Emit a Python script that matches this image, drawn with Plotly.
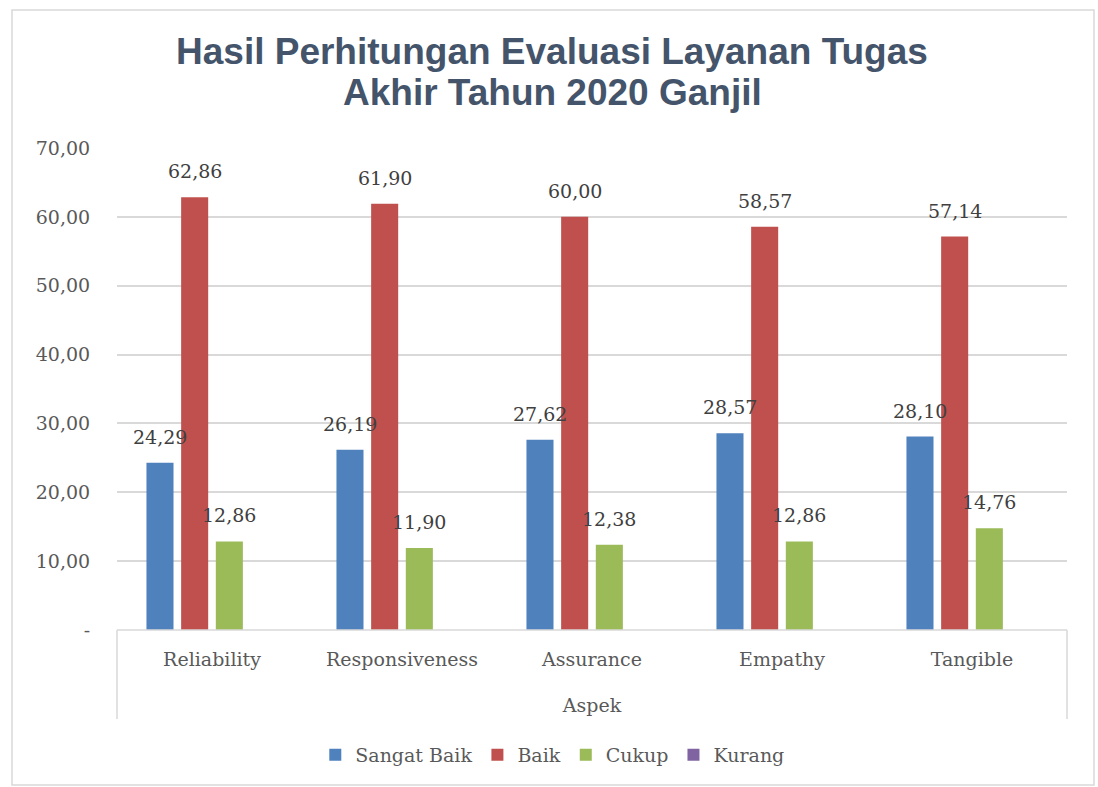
import plotly.graph_objects as go

categories = ["Reliability", "Responsiveness", "Assurance", "Empathy", "Tangible"]
series_names = ["Sangat Baik", "Baik", "Cukup", "Kurang"]
sangat_baik = [24.29, 26.19, 27.62, 28.57, 28.10]
baik = [62.86, 61.90, 60.00, 58.57, 57.14]
cukup = [12.86, 11.90, 12.38, 12.86, 14.76]
kurang = [0, 0, 0, 0, 0]
y_tickvals = [0, 10, 20, 30, 40, 50, 60, 70]
y_ticktext = ["-", "10,00", "20,00", "30,00", "40,00", "50,00", "60,00", "70,00"]
title_lines = ["Hasil Perhitungan Evaluasi Layanan Tugas", "Akhir Tahun 2020 Ganjil"]

colors = ["#4F81BD", "#C0504D", "#9BBB59", "#8064A2"]
serif = "DejaVu Serif"
BARGAP = 0.27
BARGROUPGAP = 0.22

W, H = 1098, 787
L, R, T, B = 117, 31, 148, 157
pw, ph = W - L - R, H - T - B


def px(x):
    return (x - L) / pw


def py(y):
    return (H - B - y) / ph


def fmt(v):
    return ("%.2f" % v).replace(".", ",")


all_series = [sangat_baik, baik, cukup, kurang]
fig = go.Figure()
for name, vals, col in zip(series_names, all_series, colors):
    fig.add_trace(go.Bar(
        name=name, x=categories, y=vals,
        marker=dict(color=col, line=dict(width=0)),
        hoverinfo="skip",
    ))

# data labels anchored on each bar's value through the axes
slot = pw / len(categories) * (1 - BARGAP) / len(all_series)
annotations = []
for i, vals in enumerate(all_series):
    for cat, v in zip(categories, vals):
        if v <= 0:
            continue
        annotations.append(dict(
            x=cat, y=v, xref="x", yref="y", text=fmt(v), showarrow=False,
            xshift=(i - (len(all_series) - 1) / 2) * slot, yshift=26,
            xanchor="center", yanchor="middle",
            font=dict(family=serif, size=19, color="#404040"),
        ))

# title lines
for k, (line, ypx) in enumerate(zip(title_lines, [51, 93])):
    annotations.append(dict(
        x=px(552), y=py(ypx), xref="paper", yref="paper", text=line, showarrow=False,
        xanchor="center", yanchor="middle",
        font=dict(family="Liberation Sans", size=37, color="#44546A", weight="bold"),
    ))

shapes = [
    dict(type="rect", xref="paper", yref="paper", x0=px(12), x1=px(1094), y0=py(785), y1=py(10),
         line=dict(color="#D9D9D9", width=1.5), layer="below"),
    dict(type="line", xref="paper", yref="paper", x0=0, x1=0, y0=0, y1=py(719),
         line=dict(color="#D9D9D9", width=1.5)),
    dict(type="line", xref="paper", yref="paper", x0=1, x1=1, y0=0, y1=py(719),
         line=dict(color="#D9D9D9", width=1.5)),
    dict(type="line", xref="paper", yref="paper", x0=0, x1=1, y0=0, y1=0,
         line=dict(color="#D9D9D9", width=1.5)),
]

fig.update_layout(
    width=W, height=H,
    margin=dict(l=L, r=R, t=T, b=B),
    paper_bgcolor="white", plot_bgcolor="white",
    barmode="group", bargap=BARGAP, bargroupgap=BARGROUPGAP,
    xaxis=dict(
        showgrid=False, showline=False, zeroline=False,
        ticks="outside", ticklen=12, tickcolor="rgba(0,0,0,0)",
        tickfont=dict(family=serif, size=19, color="#595959"),
        title=dict(text="Aspek", font=dict(family=serif, size=19, color="#595959"), standoff=29),
    ),
    yaxis=dict(
        range=[0, 70], tickvals=y_tickvals, ticktext=y_ticktext,
        showgrid=True, gridcolor="#D9D9D9", gridwidth=1.5,
        zeroline=False, showline=False,
        ticks="outside", ticklen=22, tickcolor="rgba(0,0,0,0)",
        tickfont=dict(family=serif, size=19, color="#595959"),
    ),
    legend=dict(
        orientation="h", xref="container", x=0.503, xanchor="center",
        yref="container", y=1 - 755 / H, yanchor="middle",
        font=dict(family=serif, size=19, color="#595959"),
        itemwidth=30, traceorder="normal",
    ),
    annotations=annotations,
    shapes=shapes,
    showlegend=True,
)

fig.write_html("out.html", config={"displayModeBar": False},
               post_script="document.body.style.margin='0';")
